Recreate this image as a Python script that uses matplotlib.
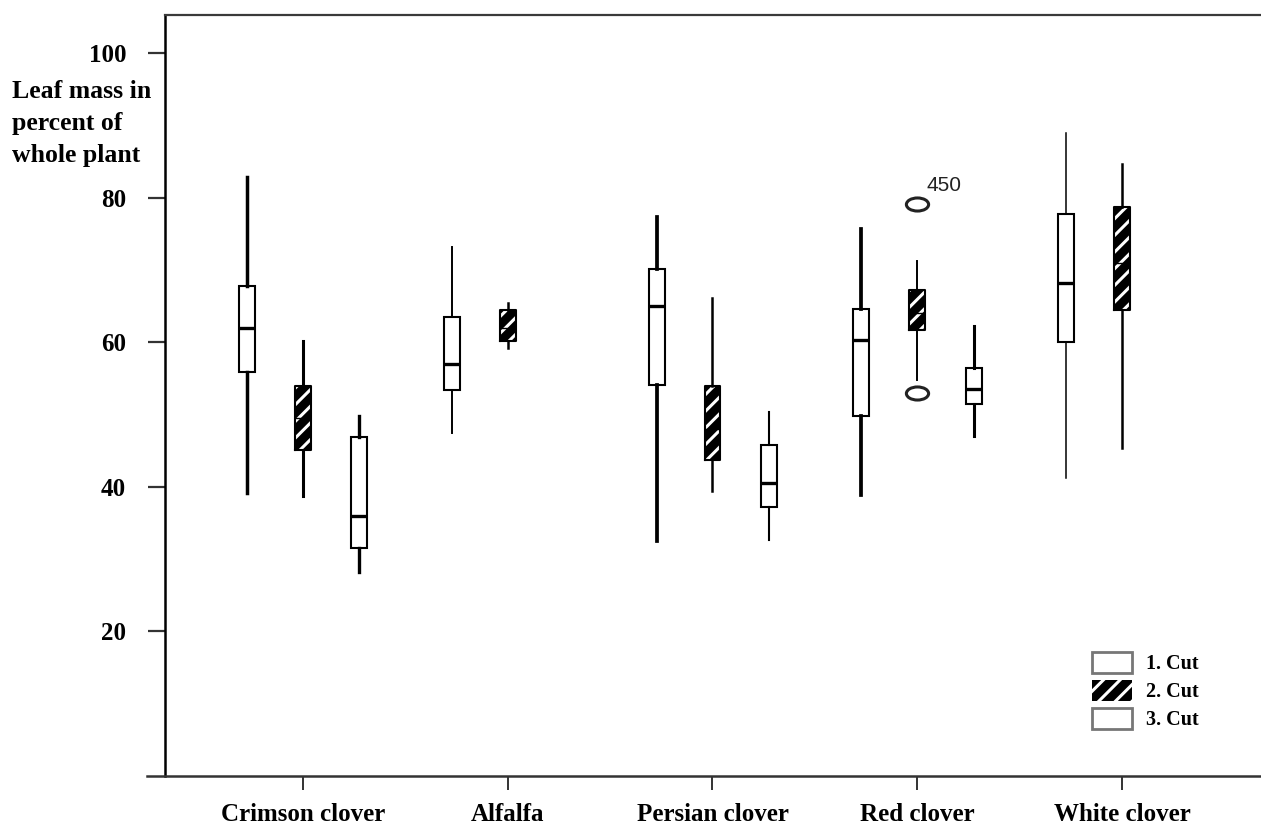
import matplotlib
matplotlib.use("Agg")
import matplotlib.pyplot as plt
import numpy as np
from matplotlib.patches import Patch
from matplotlib.path import Path
from matplotlib.transforms import Affine2D

# data
categories = ['Crimson clover', 'Alfalfa', 'Persian clover', 'Red clover', 'White clover']
cuts = ['1. Cut', '2. Cut', '3. Cut']

cut1_whislo = [39.1, 47.4, 32.4, 38.8, 41.2]
cut1_q1 = [55.9, 53.3, 54.1, 49.8, 60.0]
cut1_med = [61.9, 56.9, 65.0, 60.3, 68.1]
cut1_q3 = [67.8, 63.4, 70.1, 64.6, 77.7]
cut1_whishi = [82.9, 73.2, 77.3, 75.6, 88.9]

cut2_whislo = [38.7, 59.2, 39.4, 54.7, 45.3]
cut2_q1 = [45.1, 60.1, 43.6, 61.6, 64.4]
cut2_med = [49.5, 62.0, 48.0, 64.0, 71.0]
cut2_q3 = [53.9, 64.4, 53.9, 67.2, 78.7]
cut2_whishi = [60.2, 65.4, 66.1, 71.2, 84.6]

cut3_whislo = [28.2, np.nan, 32.6, 47.0, np.nan]
cut3_q1 = [31.5, np.nan, 37.1, 51.4, np.nan]
cut3_med = [35.9, np.nan, 40.5, 53.5, np.nan]
cut3_q3 = [46.8, np.nan, 45.8, 56.4, np.nan]
cut3_whishi = [49.8, np.nan, 50.3, 62.2, np.nan]

# outliers (only red clover, 2. cut)
cut2_fliers = [[], [], [], [79.1, 52.9], []]
outlier_label = '450'
outlier_label_value = 79.1

yticks = [20, 40, 60, 80, 100]

# styles
offsets = [-0.273, 0.0, 0.275]
box_w = 0.078
whisker_lw = [
    [2.5, 1.4, 2.7, 2.7, 1.1],
    [2.2, 1.8, 1.8, 1.4, 1.8],
    [2.4, 1.5, 1.5, 2.2, 1.5],
]

plt.rcParams['font.family'] = ['Liberation Serif', 'DejaVu Serif']
plt.rcParams['hatch.linewidth'] = 2.2


def make_stats(lo, q1, med, q3, hi, fliers=None):
    stats, pos_idx = [], []
    for i in range(len(categories)):
        if np.isnan(med[i]):
            continue
        stats.append(dict(whislo=lo[i], q1=q1[i], med=med[i], q3=q3[i],
                          whishi=hi[i], fliers=(fliers[i] if fliers else [])))
        pos_idx.append(i)
    return stats, pos_idx


fig = plt.figure(figsize=(12.61, 8.25), dpi=100)
ax = fig.add_axes([165 / 1261, 1 - 775.5 / 825, 1 - 165 / 1261, (775.5 - 15) / 825])

x = np.arange(len(categories))

ellipse = Path.unit_circle().transformed(Affine2D().scale(1.7, 1.0))

common = dict(widths=box_w, showcaps=False, manage_ticks=False)

# 1. Cut
st, idx = make_stats(cut1_whislo, cut1_q1, cut1_med, cut1_q3, cut1_whishi)
r = ax.bxp(st, positions=x[idx] + offsets[0], patch_artist=True,
           boxprops=dict(facecolor='white', edgecolor='black', linewidth=1.5),
           medianprops=dict(color='black', linewidth=2.4),
           whiskerprops=dict(color='black'), **common)
for k, i in enumerate(idx):
    for w in r['whiskers'][2 * k:2 * k + 2]:
        w.set_linewidth(whisker_lw[0][i])

# 2. Cut: black box with white stripes, then outline on top
st, idx = make_stats(cut2_whislo, cut2_q1, cut2_med, cut2_q3, cut2_whishi, cut2_fliers)
ax.bxp(st, positions=x[idx] + offsets[1], patch_artist=True, showfliers=False,
       boxprops=dict(facecolor='black', edgecolor='white', hatch='//', linewidth=0),
       medianprops=dict(color='black', linewidth=0),
       whiskerprops=dict(linewidth=0), **common)
r = ax.bxp(st, positions=x[idx] + offsets[1],
           boxprops=dict(color='black', linewidth=1.5),
           medianprops=dict(color='black', linewidth=1.0),
           whiskerprops=dict(color='black'),
           flierprops=dict(marker=ellipse, markersize=16, markerfacecolor='none',
                           markeredgecolor='#222222', markeredgewidth=2.2),
           **common)
for k, i in enumerate(idx):
    for w in r['whiskers'][2 * k:2 * k + 2]:
        w.set_linewidth(whisker_lw[1][i])

# 3. Cut
st, idx = make_stats(cut3_whislo, cut3_q1, cut3_med, cut3_q3, cut3_whishi)
r = ax.bxp(st, positions=x[idx] + offsets[2], patch_artist=True,
           boxprops=dict(facecolor='white', edgecolor='black', linewidth=1.5),
           medianprops=dict(color='black', linewidth=2.4),
           whiskerprops=dict(color='black'), **common)
for k, i in enumerate(idx):
    for w in r['whiskers'][2 * k:2 * k + 2]:
        w.set_linewidth(whisker_lw[2][i])

# outlier case number
ax.annotate(outlier_label, xy=(x[3] + offsets[1], outlier_label_value),
            xytext=(9, 13), textcoords='offset pixels', va='baseline', ha='left',
            fontsize=15, family='Liberation Sans', color='#222222')

ax.set_xlim(-0.674, 4.679)
ax.set_ylim(0, 105.26)
ax.set_xticks(x)
ax.set_xticklabels(categories, fontsize=18, fontweight='bold')
ax.set_yticks(yticks)
ax.set_yticklabels([str(v) for v in yticks], fontsize=18, fontweight='bold')
ax.tick_params(axis='y', direction='out', length=12, width=1.6, color='#333333', pad=16)
ax.tick_params(axis='x', direction='out', length=10, width=1.4, color='#333333', pad=10)

ax.spines['right'].set_visible(False)
ax.spines['top'].set_color('#3a3a3a')
ax.spines['top'].set_linewidth(1.6)
ax.spines['left'].set_color('black')
ax.spines['left'].set_linewidth(1.8)
ax.spines['bottom'].set_color('#333333')
ax.spines['bottom'].set_linewidth(1.8)
ax.spines['bottom'].set_bounds(-0.674 - 18 / 204.75, 4.679)

fig.text(12 / 1261, 0.85, 'Leaf mass in\npercent of\nwhole plant', ha='left', va='center',
         fontsize=18.5, fontweight='bold', linespacing=1.5)

handles = [
    Patch(facecolor='white', edgecolor='#777777', linewidth=2, label=cuts[0]),
    Patch(facecolor='black', edgecolor='white', hatch='//', linewidth=0, label=cuts[1]),
    Patch(facecolor='white', edgecolor='#777777', linewidth=2, label=cuts[2]),
]
fig.legend(handles=handles, loc='upper left', bbox_to_anchor=(1092 / 1261, 1 - 652 / 825),
           frameon=False, prop=dict(weight='bold', size=14.5, family='Liberation Serif'),
           handlelength=2.0, handleheight=1.2, labelspacing=0.3, handletextpad=0.7,
           borderpad=0, borderaxespad=0)

fig.savefig('out.png', dpi=100)
